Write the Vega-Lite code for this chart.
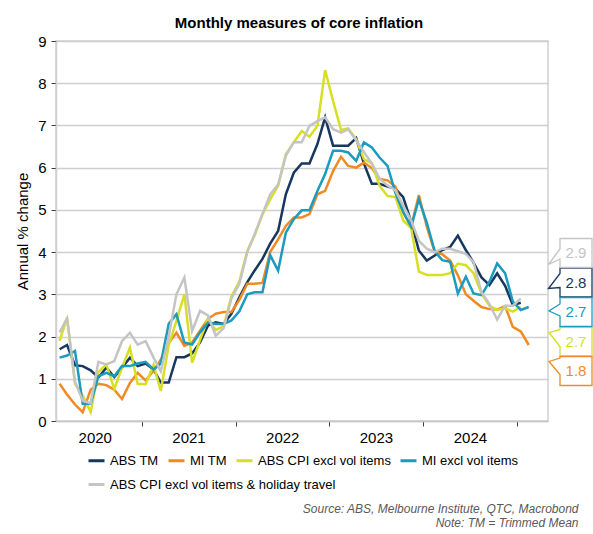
{
  "$schema": "https://vega.github.io/schema/vega-lite/v6.json",
  "width": 492,
  "height": 380,
  "autosize": {"type": "none"},
  "padding": {"left": 56, "top": 41, "right": 45, "bottom": 113},
  "config": {
    "font": "Liberation Sans",
    "view": {"stroke": "#d0d0d0", "strokeWidth": 1.5}
  },
  "title": {
    "text": "Monthly measures of core inflation",
    "fontSize": 15,
    "fontWeight": "bold",
    "color": "#000000",
    "anchor": "middle",
    "frame": "group",
    "baseline": "alphabetic",
    "offset": -9,
    "dx": -3
  },
  "data": {
    "values": [
      {"date": "2020-02-15", "ABS TM": 1.7, "MI TM": 0.88, "ABS CPI excl vol items": 1.9, "MI excl vol items": 1.5, "ABS CPI excl vol items & holiday travel": 2.1},
      {"date": "2020-03-15", "ABS TM": 1.8, "MI TM": 0.63, "ABS CPI excl vol items": 2.45, "MI excl vol items": 1.55, "ABS CPI excl vol items & holiday travel": 2.43},
      {"date": "2020-04-15", "ABS TM": 1.32, "MI TM": 0.39, "ABS CPI excl vol items": 0.88, "MI excl vol items": 1.66, "ABS CPI excl vol items & holiday travel": 0.93},
      {"date": "2020-05-15", "ABS TM": 1.3, "MI TM": 0.21, "ABS CPI excl vol items": 0.6, "MI excl vol items": 0.41, "ABS CPI excl vol items & holiday travel": 0.48},
      {"date": "2020-06-15", "ABS TM": 1.2, "MI TM": 0.74, "ABS CPI excl vol items": 0.21, "MI excl vol items": 0.41, "ABS CPI excl vol items & holiday travel": 0.42},
      {"date": "2020-07-15", "ABS TM": 1.03, "MI TM": 0.88, "ABS CPI excl vol items": 1.16, "MI excl vol items": 1.06, "ABS CPI excl vol items & holiday travel": 1.4},
      {"date": "2020-08-15", "ABS TM": 1.26, "MI TM": 0.85, "ABS CPI excl vol items": 1.34, "MI excl vol items": 1.14, "ABS CPI excl vol items & holiday travel": 1.34},
      {"date": "2020-09-15", "ABS TM": 1.04, "MI TM": 0.74, "ABS CPI excl vol items": 0.76, "MI excl vol items": 1.06, "ABS CPI excl vol items & holiday travel": 1.42},
      {"date": "2020-10-15", "ABS TM": 1.26, "MI TM": 0.52, "ABS CPI excl vol items": 1.26, "MI excl vol items": 1.3, "ABS CPI excl vol items & holiday travel": 1.89},
      {"date": "2020-11-15", "ABS TM": 1.5, "MI TM": 0.9, "ABS CPI excl vol items": 1.74, "MI excl vol items": 1.3, "ABS CPI excl vol items & holiday travel": 2.09},
      {"date": "2020-12-15", "ABS TM": 1.3, "MI TM": 1.14, "ABS CPI excl vol items": 0.88, "MI excl vol items": 1.36, "ABS CPI excl vol items & holiday travel": 1.81},
      {"date": "2021-01-15", "ABS TM": 1.36, "MI TM": 0.96, "ABS CPI excl vol items": 0.87, "MI excl vol items": 1.4, "ABS CPI excl vol items & holiday travel": 1.89},
      {"date": "2021-02-15", "ABS TM": 1.22, "MI TM": 1.19, "ABS CPI excl vol items": 1.33, "MI excl vol items": 1.22, "ABS CPI excl vol items & holiday travel": 1.5},
      {"date": "2021-03-15", "ABS TM": 0.91, "MI TM": 1.45, "ABS CPI excl vol items": 0.71, "MI excl vol items": 1.36, "ABS CPI excl vol items & holiday travel": 1.18},
      {"date": "2021-04-15", "ABS TM": 0.91, "MI TM": 1.85, "ABS CPI excl vol items": 1.8, "MI excl vol items": 2.3, "ABS CPI excl vol items & holiday travel": 2.0},
      {"date": "2021-05-15", "ABS TM": 1.51, "MI TM": 2.09, "ABS CPI excl vol items": 2.37, "MI excl vol items": 2.53, "ABS CPI excl vol items & holiday travel": 3.0},
      {"date": "2021-06-15", "ABS TM": 1.51, "MI TM": 1.78, "ABS CPI excl vol items": 3.0, "MI excl vol items": 1.86, "ABS CPI excl vol items & holiday travel": 3.4},
      {"date": "2021-07-15", "ABS TM": 1.6, "MI TM": 1.86, "ABS CPI excl vol items": 1.38, "MI excl vol items": 1.81, "ABS CPI excl vol items & holiday travel": 2.13},
      {"date": "2021-08-15", "ABS TM": 1.86, "MI TM": 2.14, "ABS CPI excl vol items": 1.92, "MI excl vol items": 2.1, "ABS CPI excl vol items & holiday travel": 2.61},
      {"date": "2021-09-15", "ABS TM": 2.26, "MI TM": 2.42, "ABS CPI excl vol items": 2.42, "MI excl vol items": 2.33, "ABS CPI excl vol items & holiday travel": 2.5},
      {"date": "2021-10-15", "ABS TM": 2.34, "MI TM": 2.54, "ABS CPI excl vol items": 2.15, "MI excl vol items": 2.3, "ABS CPI excl vol items & holiday travel": 2.02},
      {"date": "2021-11-15", "ABS TM": 2.3, "MI TM": 2.58, "ABS CPI excl vol items": 2.25, "MI excl vol items": 2.3, "ABS CPI excl vol items & holiday travel": 2.2},
      {"date": "2021-12-15", "ABS TM": 2.54, "MI TM": 2.58, "ABS CPI excl vol items": 2.95, "MI excl vol items": 2.38, "ABS CPI excl vol items & holiday travel": 2.9},
      {"date": "2022-01-15", "ABS TM": 2.93, "MI TM": 2.87, "ABS CPI excl vol items": 3.3, "MI excl vol items": 2.6, "ABS CPI excl vol items & holiday travel": 3.25},
      {"date": "2022-02-15", "ABS TM": 3.29, "MI TM": 3.25, "ABS CPI excl vol items": 4.03, "MI excl vol items": 3.0, "ABS CPI excl vol items & holiday travel": 4.0},
      {"date": "2022-03-15", "ABS TM": 3.56, "MI TM": 3.25, "ABS CPI excl vol items": 4.39, "MI excl vol items": 3.05, "ABS CPI excl vol items & holiday travel": 4.42},
      {"date": "2022-04-15", "ABS TM": 3.84, "MI TM": 3.27, "ABS CPI excl vol items": 4.9, "MI excl vol items": 3.05, "ABS CPI excl vol items & holiday travel": 4.9},
      {"date": "2022-05-15", "ABS TM": 4.2, "MI TM": 4.0, "ABS CPI excl vol items": 5.25, "MI excl vol items": 3.93, "ABS CPI excl vol items & holiday travel": 5.37},
      {"date": "2022-06-15", "ABS TM": 4.5, "MI TM": 4.3, "ABS CPI excl vol items": 5.57, "MI excl vol items": 3.56, "ABS CPI excl vol items & holiday travel": 5.6},
      {"date": "2022-07-15", "ABS TM": 5.37, "MI TM": 4.62, "ABS CPI excl vol items": 6.32, "MI excl vol items": 4.46, "ABS CPI excl vol items & holiday travel": 6.28},
      {"date": "2022-08-15", "ABS TM": 5.88, "MI TM": 4.82, "ABS CPI excl vol items": 6.6, "MI excl vol items": 4.78, "ABS CPI excl vol items & holiday travel": 6.6},
      {"date": "2022-09-15", "ABS TM": 6.1, "MI TM": 4.82, "ABS CPI excl vol items": 6.87, "MI excl vol items": 4.99, "ABS CPI excl vol items & holiday travel": 6.6},
      {"date": "2022-10-15", "ABS TM": 6.1, "MI TM": 4.9, "ABS CPI excl vol items": 6.73, "MI excl vol items": 4.99, "ABS CPI excl vol items & holiday travel": 6.99},
      {"date": "2022-11-15", "ABS TM": 6.56, "MI TM": 5.37, "ABS CPI excl vol items": 6.99, "MI excl vol items": 5.45, "ABS CPI excl vol items & holiday travel": 7.1},
      {"date": "2022-12-15", "ABS TM": 7.19, "MI TM": 5.45, "ABS CPI excl vol items": 8.31, "MI excl vol items": 5.85, "ABS CPI excl vol items & holiday travel": 7.19},
      {"date": "2023-01-15", "ABS TM": 6.52, "MI TM": 5.92, "ABS CPI excl vol items": 7.58, "MI excl vol items": 6.4, "ABS CPI excl vol items & holiday travel": 6.91},
      {"date": "2023-02-15", "ABS TM": 6.52, "MI TM": 6.26, "ABS CPI excl vol items": 6.89, "MI excl vol items": 6.4, "ABS CPI excl vol items & holiday travel": 6.83},
      {"date": "2023-03-15", "ABS TM": 6.52, "MI TM": 6.04, "ABS CPI excl vol items": 6.93, "MI excl vol items": 6.36, "ABS CPI excl vol items & holiday travel": 6.91},
      {"date": "2023-04-15", "ABS TM": 6.7, "MI TM": 6.0, "ABS CPI excl vol items": 6.67, "MI excl vol items": 6.16, "ABS CPI excl vol items & holiday travel": 6.65},
      {"date": "2023-05-15", "ABS TM": 6.1, "MI TM": 6.12, "ABS CPI excl vol items": 6.2, "MI excl vol items": 6.6, "ABS CPI excl vol items & holiday travel": 6.37},
      {"date": "2023-06-15", "ABS TM": 5.62, "MI TM": 5.99, "ABS CPI excl vol items": 6.1, "MI excl vol items": 6.48, "ABS CPI excl vol items & holiday travel": 6.1},
      {"date": "2023-07-15", "ABS TM": 5.62, "MI TM": 5.73, "ABS CPI excl vol items": 5.57, "MI excl vol items": 6.24, "ABS CPI excl vol items & holiday travel": 5.74},
      {"date": "2023-08-15", "ABS TM": 5.55, "MI TM": 5.7, "ABS CPI excl vol items": 5.33, "MI excl vol items": 6.04, "ABS CPI excl vol items & holiday travel": 5.58},
      {"date": "2023-09-15", "ABS TM": 5.5, "MI TM": 5.55, "ABS CPI excl vol items": 5.3, "MI excl vol items": 5.4, "ABS CPI excl vol items & holiday travel": 5.46},
      {"date": "2023-10-15", "ABS TM": 5.3, "MI TM": 4.95, "ABS CPI excl vol items": 4.75, "MI excl vol items": 4.95, "ABS CPI excl vol items & holiday travel": 5.1},
      {"date": "2023-11-15", "ABS TM": 4.72, "MI TM": 4.6, "ABS CPI excl vol items": 4.57, "MI excl vol items": 4.6, "ABS CPI excl vol items & holiday travel": 4.75},
      {"date": "2023-12-15", "ABS TM": 4.04, "MI TM": 5.35, "ABS CPI excl vol items": 3.54, "MI excl vol items": 5.25, "ABS CPI excl vol items & holiday travel": 4.27},
      {"date": "2024-01-15", "ABS TM": 3.8, "MI TM": 4.6, "ABS CPI excl vol items": 3.46, "MI excl vol items": 4.7, "ABS CPI excl vol items & holiday travel": 4.08},
      {"date": "2024-02-15", "ABS TM": 3.92, "MI TM": 4.0, "ABS CPI excl vol items": 3.46, "MI excl vol items": 4.02, "ABS CPI excl vol items & holiday travel": 4.0},
      {"date": "2024-03-15", "ABS TM": 4.05, "MI TM": 3.95, "ABS CPI excl vol items": 3.46, "MI excl vol items": 3.81, "ABS CPI excl vol items & holiday travel": 4.08},
      {"date": "2024-04-15", "ABS TM": 4.12, "MI TM": 3.8, "ABS CPI excl vol items": 3.5, "MI excl vol items": 3.77, "ABS CPI excl vol items & holiday travel": 4.08},
      {"date": "2024-05-15", "ABS TM": 4.39, "MI TM": 3.45, "ABS CPI excl vol items": 3.73, "MI excl vol items": 3.02, "ABS CPI excl vol items & holiday travel": 4.02},
      {"date": "2024-06-15", "ABS TM": 4.05, "MI TM": 3.0, "ABS CPI excl vol items": 3.69, "MI excl vol items": 3.42, "ABS CPI excl vol items & holiday travel": 3.96},
      {"date": "2024-07-15", "ABS TM": 3.75, "MI TM": 2.85, "ABS CPI excl vol items": 3.5, "MI excl vol items": 3.02, "ABS CPI excl vol items & holiday travel": 3.76},
      {"date": "2024-08-15", "ABS TM": 3.4, "MI TM": 2.7, "ABS CPI excl vol items": 3.02, "MI excl vol items": 2.98, "ABS CPI excl vol items & holiday travel": 3.05},
      {"date": "2024-09-15", "ABS TM": 3.22, "MI TM": 2.65, "ABS CPI excl vol items": 2.73, "MI excl vol items": 3.3, "ABS CPI excl vol items & holiday travel": 2.77},
      {"date": "2024-10-15", "ABS TM": 3.5, "MI TM": 2.64, "ABS CPI excl vol items": 2.63, "MI excl vol items": 3.73, "ABS CPI excl vol items & holiday travel": 2.4},
      {"date": "2024-11-15", "ABS TM": 3.2, "MI TM": 2.72, "ABS CPI excl vol items": 2.67, "MI excl vol items": 3.5, "ABS CPI excl vol items & holiday travel": 2.73},
      {"date": "2024-12-15", "ABS TM": 2.75, "MI TM": 2.23, "ABS CPI excl vol items": 2.59, "MI excl vol items": 2.83, "ABS CPI excl vol items & holiday travel": 2.73},
      {"date": "2025-01-15", "ABS TM": 2.8, "MI TM": 2.12, "ABS CPI excl vol items": 2.7, "MI excl vol items": 2.63, "ABS CPI excl vol items & holiday travel": 2.9},
      {"date": "2025-02-15", "MI TM": 1.8, "MI excl vol items": 2.7}
    ]
  },
  "transform": [
    {"fold": ["ABS TM", "MI TM", "ABS CPI excl vol items", "MI excl vol items", "ABS CPI excl vol items & holiday travel"], "as": ["series", "value"]},
    {"filter": "isValid(datum.value)"}
  ],
  "encoding": {
    "x": {
      "field": "date",
      "type": "temporal",
      "scale": {"domain": [{"year": 2020, "month": 2, "date": 1}, {"year": 2025, "month": 5, "date": 1}]},
      "axis": {
        "values": [
          {"year": 2020, "month": 7, "date": 1},
          {"year": 2021, "month": 7, "date": 1},
          {"year": 2022, "month": 7, "date": 1},
          {"year": 2023, "month": 7, "date": 1},
          {"year": 2024, "month": 7, "date": 1}
        ],
        "format": "%Y",
        "grid": false,
        "tickOffset": 47,
        "labelOffset": -47,
        "tickSize": 5,
        "tickColor": "#404040",
        "labelFontSize": 15,
        "labelColor": "#000000",
        "labelPadding": 4,
        "domainColor": "#c8c8c8",
        "domainWidth": 1.5,
        "title": ["Source: ABS, Melbourne Institute, QTC, Macrobond", "Note: TM = Trimmed Mean"],
        "titleFontSize": 12,
        "titleFontWeight": "normal",
        "titleFontStyle": "italic",
        "titleColor": "#595959",
        "titleAnchor": "end",
        "titleAlign": "right",
        "titleBaseline": "top",
        "titleLineHeight": 14,
        "titleX": 522,
        "titleY": 82
      }
    }
  },
  "layer": [
    {
      "encoding": {
        "y": {
          "field": "value",
          "type": "quantitative",
          "scale": {"domain": [0, 9]},
          "axis": {
            "values": [0, 1, 2, 3, 4, 5, 6, 7, 8, 9],
            "tickSize": 5,
            "tickColor": "#404040",
            "labelFontSize": 15,
            "labelColor": "#000000",
            "labelPadding": 5,
            "gridColor": "#cfcfcf",
            "gridWidth": 1.5,
            "domainColor": "#d0d0d0",
            "domainWidth": 1.5,
            "title": "Annual % change",
            "titleFontSize": 15,
            "titleFontWeight": "normal",
            "titleColor": "#000000",
            "titleX": -34,
            "titleY": 190,
            "titleBaseline": "middle",
            "titleAngle": -90
          }
        }
      },
      "layer": [
        {
          "transform": [{"filter": "datum.series != 'ABS CPI excl vol items & holiday travel'"}],
          "mark": {"type": "line", "strokeWidth": 2.5},
          "encoding": {
            "color": {
              "field": "series",
              "type": "nominal",
              "scale": {
                "domain": ["ABS TM", "MI TM", "ABS CPI excl vol items", "MI excl vol items"],
                "range": ["#17375e", "#f08a24", "#d6df23", "#1a9bbf"]
              },
              "legend": {
                "title": null,
                "orient": "none",
                "legendX": 31,
                "legendY": 410,
                "direction": "horizontal",
                "columnPadding": 3,
                "padding": 0,
                "symbolType": "stroke",
                "symbolSize": 256,
                "symbolStrokeWidth": 3,
                "labelOffset": 4,
                "labelFontSize": 13,
                "labelColor": "#000000",
                "labelLimit": 400
              }
            }
          }
        },
        {
          "transform": [{"filter": "datum.series == 'ABS CPI excl vol items & holiday travel'"}],
          "mark": {"type": "line", "strokeWidth": 2.5},
          "encoding": {
            "stroke": {
              "field": "series",
              "type": "nominal",
              "scale": {"domain": ["ABS CPI excl vol items & holiday travel"], "range": ["#c4c4c4"]},
              "legend": {
                "title": null,
                "orient": "none",
                "legendX": 31,
                "legendY": 434,
                "padding": 0,
                "symbolType": "stroke",
                "symbolSize": 256,
                "symbolStrokeWidth": 3,
                "labelOffset": 4,
                "labelFontSize": 13,
                "labelColor": "#000000",
                "labelLimit": 400
              }
            }
          }
        }
      ]
    },
    {
      "transform": [
        {"window": [{"op": "row_number", "as": "rank"}], "groupby": ["series"], "sort": [{"field": "date", "order": "descending"}]},
        {"filter": "datum.rank == 1"}
      ],
      "encoding": {
        "x": {"value": "width"},
        "y": {
          "field": "series",
          "type": "ordinal",
          "scale": {
            "type": "point",
            "domain": ["ABS CPI excl vol items & holiday travel", "ABS TM", "MI excl vol items", "ABS CPI excl vol items", "MI TM"],
            "range": [212, 330],
            "padding": 0
          },
          "axis": null
        }
      },
      "layer": [
        {
          "mark": {"type": "point", "filled": true, "fill": "white", "size": 4, "strokeWidth": 1.3, "opacity": 1},
          "encoding": {
            "shape": {
              "field": "series",
              "type": "nominal",
              "scale": {
                "domain": ["ABS CPI excl vol items & holiday travel", "ABS TM", "MI excl vol items", "ABS CPI excl vol items", "MI TM"],
                "range": [
                  "M12,-14.5H44V14.5H12V6L0.5,11.5L12,-4Z",
                  "M12,-14.5H44V14.5H12V5L0.5,6L12,-9Z",
                  "M12,-14.5H44V14.5H12V4L1,-1L12,-8Z",
                  "M12,-14.5H44V14.5H12V5L1,-9L12,-12Z",
                  "M12,-14.5H44V14.5H12V3.5L1,-9.5L12,-13Z"
                ]
              },
              "legend": null
            },
            "stroke": {
              "field": "series",
              "type": "nominal",
              "scale": {
                "domain": ["ABS TM", "MI TM", "ABS CPI excl vol items", "MI excl vol items", "ABS CPI excl vol items & holiday travel"],
                "range": ["#17375e", "#f08a24", "#d6df23", "#1a9bbf", "#c4c4c4"]
              },
              "legend": null
            }
          }
        },
        {
          "mark": {"type": "text", "dx": 28, "fontSize": 15, "align": "center", "baseline": "middle"},
          "encoding": {
            "text": {"field": "value", "type": "quantitative", "format": ".1f"},
            "fill": {
              "field": "series",
              "type": "nominal",
              "scale": {
                "domain": ["ABS TM", "MI TM", "ABS CPI excl vol items", "MI excl vol items", "ABS CPI excl vol items & holiday travel"],
                "range": ["#17375e", "#f08a24", "#d6df23", "#1a9bbf", "#c4c4c4"]
              },
              "legend": null
            }
          }
        }
      ]
    }
  ],
  "resolve": {"scale": {"y": "independent", "stroke": "independent"}}
}
